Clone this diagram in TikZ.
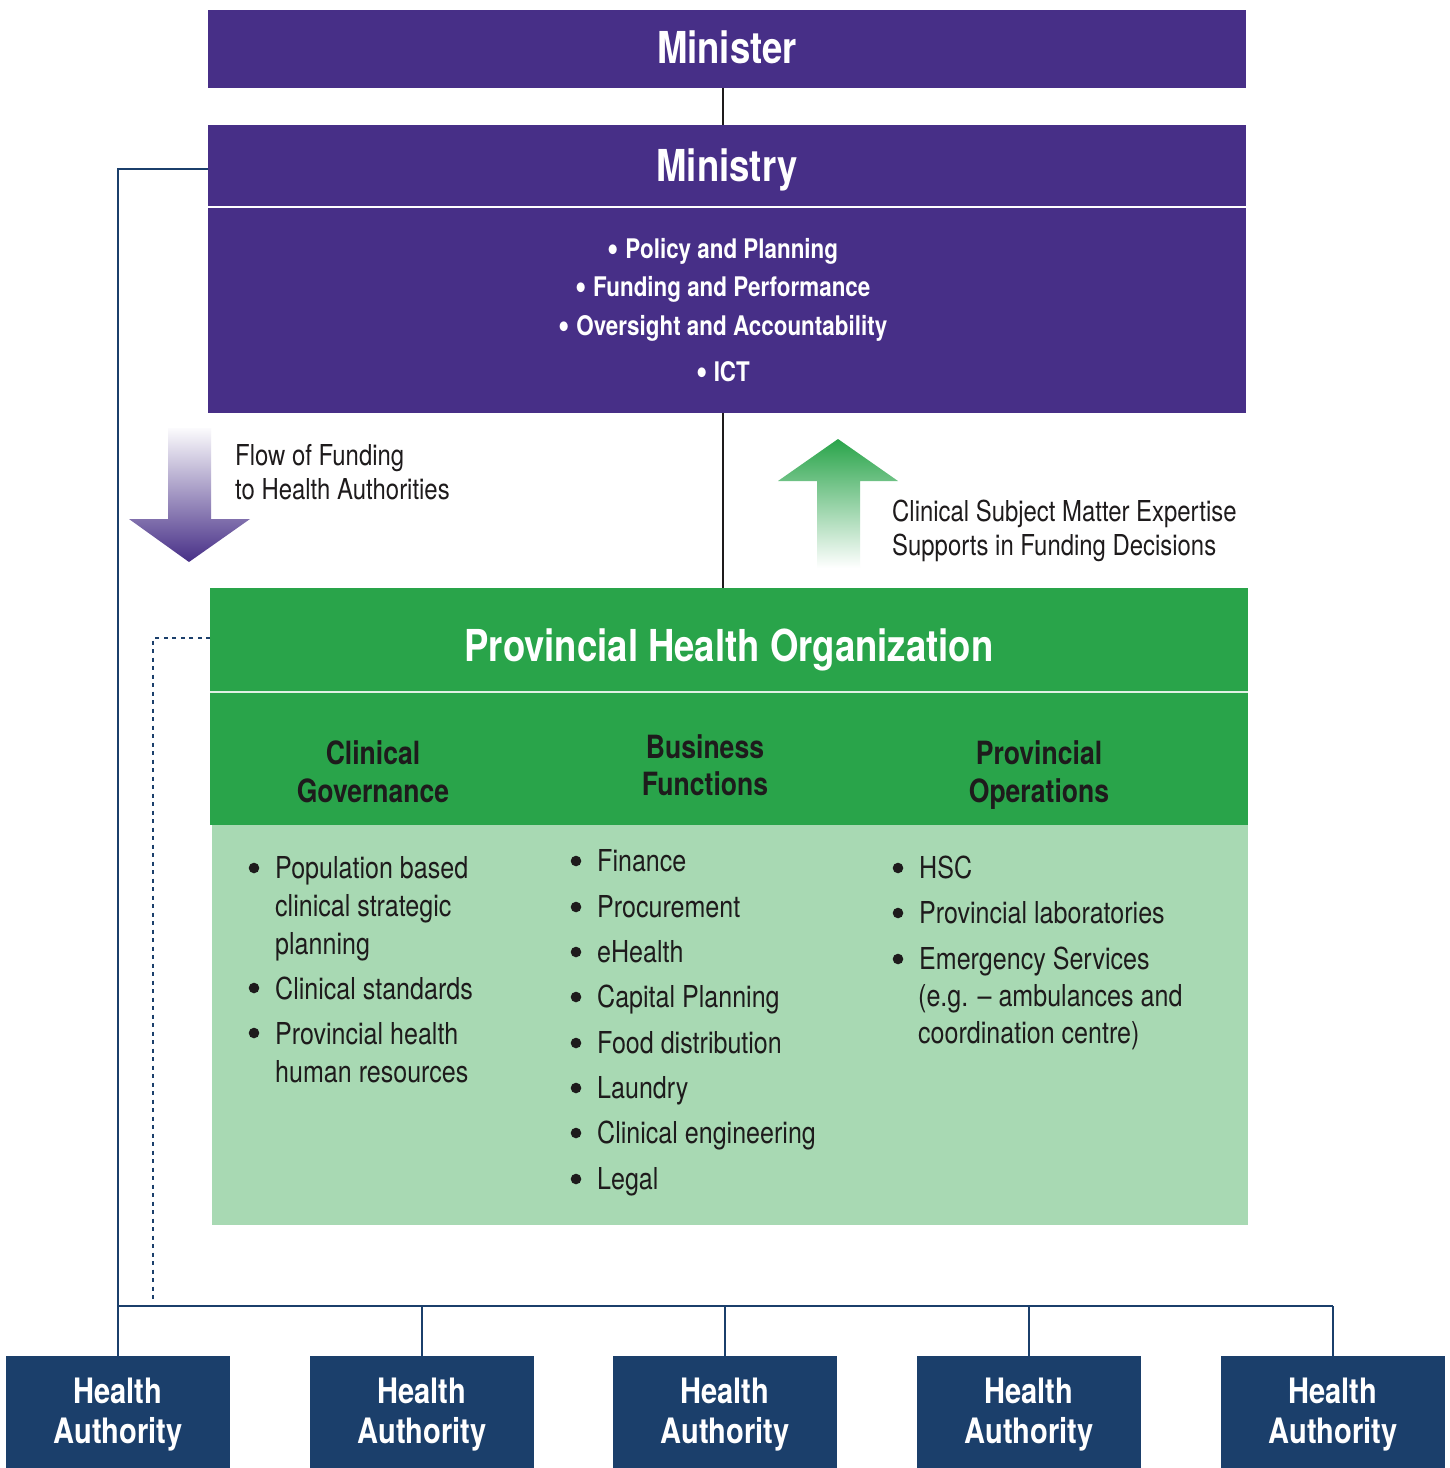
\documentclass[tikz,border=0pt]{standalone}
\usepackage{fontspec}
\setmainfont{TeX Gyre Heros}[FakeStretch=0.83]
\usetikzlibrary{calc}
\definecolor{minpurple}{HTML}{472F87}
\definecolor{phogreen}{HTML}{29A44A}
\definecolor{lightgreen}{HTML}{A8D9B3}
\definecolor{navy}{HTML}{1B3F6B}
\definecolor{ink}{HTML}{1E1B1C}
\newcommand{\mbul}{\raisebox{-0.12em}{\scalebox{1.45}{\textbullet}}}
\begin{document}
\begin{tikzpicture}[x=1pt,y=-1pt,
  band/.style={draw=none,inner sep=0,outer sep=0,anchor=north west},
  bigtitle/.style={anchor=base,text=white,inner sep=0,font=\fontsize{44}{50}\selectfont\bfseries},
  minitem/.style={anchor=base,text=white,inner sep=0,font=\fontsize{27}{32}\selectfont\bfseries},
  subhead/.style={anchor=base,text=ink,inner sep=0,align=center,font=\fontsize{32}{38}\selectfont\bfseries},
  listtext/.style={anchor=base west,text=ink,inner sep=0,font=\fontsize{30.2}{36}\selectfont},
  notetext/.style={anchor=base west,text=ink,inner sep=0,font=\fontsize{28.8}{34}\selectfont},
  hatext/.style={anchor=base,text=white,inner sep=0,font=\fontsize{35}{40}\selectfont\bfseries},
  habox/.style={band,fill=navy,minimum width=224,minimum height=112},
  navyline/.style={draw=navy,line width=2.4},
  blackline/.style={draw=ink,line width=2},
  dot/.style={fill=ink,draw=none}
]
\useasboundingbox (0,0) rectangle (1450,1468);
\fill[white] (0,0) rectangle (1450,1468);

% ---- connector coordinates
\coordinate (spine) at (723,0);
\coordinate (bus) at (0,1306);
\coordinate (dotend) at (153,1300);

% ---- Minister
\node[band,fill=minpurple,minimum width=1038,minimum height=78] (minister) at (208,10) {};
\node[bigtitle] (ministertxt) at (727,63) {Minister};

% ---- Ministry
\node[band,fill=minpurple,minimum width=1038,minimum height=82] (ministrytitle) at (208,125) {};
\node[band,fill=minpurple,minimum width=1038,minimum height=206] (ministrybody) at (208,207) {};
\draw[white,line width=2] (ministrytitle.south west) -- (ministrytitle.south east);
\node[bigtitle] (ministrytxt) at (727,181) {Ministry};
\node[minitem] (m1) at (723,258) {\mbul\ Policy and Planning};
\node[minitem] (m2) at (723,296) {\mbul\ Funding and Performance};
\node[minitem] (m3) at (723,335) {\mbul\ Oversight and Accountability};
\node[minitem] (m4) at (723,381) {\mbul\ ICT};

% ---- Provincial Health Organization
\node[band,fill=phogreen,minimum width=1038,minimum height=104] (phohead) at (210,588) {};
\node[band,fill=phogreen,minimum width=1038,minimum height=133] (phosub) at (210,692) {};
\node[band,fill=lightgreen,minimum width=1036,minimum height=400] (phobody) at (212,825) {};
\draw[white!85!phogreen,line width=2.5] (phohead.south west) -- (phohead.south east);
\node[bigtitle] (photxt) at (729,661) {Provincial Health Organization};

\node[subhead] (sh1a) at (373,764) {Clinical};
\node[subhead] (sh1b) at (373,802) {Governance};
\node[subhead] (sh2a) at (705,758) {Business};
\node[subhead] (sh2b) at (705,795) {Functions};
\node[subhead] (sh3a) at (1039,764) {Provincial};
\node[subhead] (sh3b) at (1039,802) {Operations};

% column 1
\foreach \yy in {868,988,1033} \fill[dot] (254,\yy) circle (5.3);
\node[listtext] (c1a) at (275,878) {Population based};
\node[listtext] (c1b) at (275,916) {clinical strategic};
\node[listtext] (c1c) at (275,954) {planning};
\node[listtext] (c1d) at (275,999) {Clinical standards};
\node[listtext] (c1e) at (275,1044) {Provincial health};
\node[listtext] (c1f) at (275,1082) {human resources};

% column 2
\foreach \yy in {861,907,952,997,1043,1088,1133,1179} \fill[dot] (576,\yy) circle (5.3);
\node[listtext] (c2a) at (597,871) {Finance};
\node[listtext] (c2b) at (597,917) {Procurement};
\node[listtext] (c2c) at (597,962) {eHealth};
\node[listtext] (c2d) at (597,1007) {Capital Planning};
\node[listtext] (c2e) at (597,1053) {Food distribution};
\node[listtext] (c2f) at (597,1098) {Laundry};
\node[listtext] (c2g) at (597,1143) {Clinical engineering};
\node[listtext] (c2h) at (597,1189) {Legal};

% column 3
\foreach \yy in {868,913,959} \fill[dot] (898,\yy) circle (5.3);
\node[listtext] (c3a) at (919,878) {HSC};
\node[listtext] (c3b) at (919,923) {Provincial laboratories};
\node[listtext] (c3c) at (919,969) {Emergency Services};
\node[listtext] (c3d) at (918,1006) {(e.g. – ambulances and};
\node[listtext] (c3e) at (918,1043) {coordination centre)};

% ---- gradient arrows
\shade[top color=minpurple!2,bottom color=minpurple]
  (168,428) -- (211,428) -- (211,519) -- (250,519) -- (189,562) -- (129,519) -- (168,519) -- cycle;
\node[notetext] (flow1) at (235,465) {Flow of Funding};
\node[notetext] (flow2) at (235,499) {to Health Authorities};

\shade[top color=phogreen,bottom color=white]
  (838,439) -- (898,481) -- (860,481) -- (860,568) -- (817,568) -- (817,481) -- (778,481) -- cycle;
\node[notetext] (exp1) at (892,521) {Clinical Subject Matter Expertise};
\node[notetext] (exp2) at (892,555) {Supports in Funding Decisions};

% ---- Health Authorities
\node[habox] (ha1) at (6,1356) {};
\node[habox] (ha2) at (310,1356) {};
\node[habox] (ha3) at (613,1356) {};
\node[habox] (ha4) at (917,1356) {};
\node[habox] (ha5) at (1221,1356) {};
\foreach \n in {ha1,ha2,ha3,ha4,ha5}{
  \node[hatext] at ($(\n.north)+(0,47)$) {Health};
  \node[hatext] at ($(\n.north)+(0,87)$) {Authority};
}

% ---- connectors
\draw[blackline] (minister.south -| spine) -- (ministrytitle.north -| spine);
\draw[blackline] (ministrybody.south -| spine) -- (phohead.north -| spine);
\draw[navyline] ([yshift=-3]ministrytitle.west) -| (ha1.north);
\draw[navyline] (ha1.north |- bus) -- (ha5.north |- bus);
\foreach \n in {ha2,ha3,ha4,ha5}
  \draw[navyline] (\n.north |- bus) -- (\n.north);
\draw[navy,line width=2.2,dash pattern=on 4pt off 4.5pt] ([yshift=2]phohead.west) -| (dotend);
\end{tikzpicture}
\end{document}
